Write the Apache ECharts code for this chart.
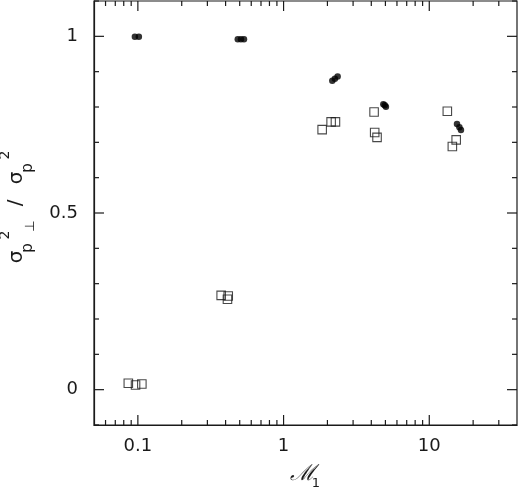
<!DOCTYPE html>
<html>
<head>
<meta charset="utf-8">
<script src="https://cdn.jsdelivr.net/npm/echarts@6/dist/echarts.min.js"></script>
<style>
  html, body { margin: 0; padding: 0; background: #fff; }
  #chart { width: 520px; height: 492px; }
</style>
</head>
<body>
<div id="chart"></div>
<script>
// filled circles: [M1, ratio]
var dotPoints = [
  [0.0954, 0.999], [0.1016, 0.999],
  [0.485, 0.992], [0.51, 0.992], [0.535, 0.992],
  [2.16, 0.874], [2.25, 0.880], [2.35, 0.886],
  [4.84, 0.808], [4.95, 0.805], [5.04, 0.801],
  [15.5, 0.752], [16.1, 0.743], [16.5, 0.735]
];
// open squares: [M1, ratio]
var squarePoints = [
  [0.086, 0.018], [0.0964, 0.013], [0.1065, 0.016],
  [0.373, 0.267], [0.417, 0.265], [0.412, 0.256],
  [1.84, 0.736], [2.12, 0.758], [2.27, 0.758],
  [4.18, 0.786], [4.22, 0.728], [4.38, 0.714],
  [13.3, 0.788], [15.3, 0.707], [14.4, 0.688]
];
// axis ticks
var xMajorTicks = [0.1, 1, 10];
var xMinorTicks = [0.06, 0.07, 0.08, 0.09, 0.2, 0.3, 0.4, 0.5, 0.6, 0.7, 0.8, 0.9,
  2, 3, 4, 5, 6, 7, 8, 9, 20, 30];
var yMajorTicks = [0, 0.5, 1];
var yMinorTicks = [-0.1, 0.1, 0.2, 0.3, 0.4, 0.6, 0.7, 0.8, 0.9, 1.1];

var chart = echarts.init(document.getElementById('chart'));
var ink = '#1a1a1a';
var font = 'DejaVu Sans, sans-serif';

// x tick rows: [x, y, major?]  y tick rows: [x, y, major?]
var xTickData = [], yTickData = [];
xMajorTicks.forEach(function (v) { xTickData.push([v, 0.5, 1]); });
xMinorTicks.forEach(function (v) { xTickData.push([v, 0.5, 0]); });
yMajorTicks.forEach(function (v) { yTickData.push([1, v, 1]); });
yMinorTicks.forEach(function (v) { yTickData.push([1, v, 0]); });

var tickStyle = { stroke: ink, lineWidth: 1.2 };

function renderXTick(params, api) {
  var cs = params.coordSys;
  var p = api.coord([api.value(0), api.value(1)]);
  var len = api.value(2) ? 10 : 5;
  var bottom = cs.y + cs.height, top = cs.y;
  return { type: 'group', children: [
    { type: 'line', shape: { x1: p[0], y1: bottom, x2: p[0], y2: bottom - len }, style: tickStyle },
    { type: 'line', shape: { x1: p[0], y1: top, x2: p[0], y2: top + len }, style: tickStyle }
  ]};
}

function renderYTick(params, api) {
  var cs = params.coordSys;
  var p = api.coord([api.value(0), api.value(1)]);
  var len = api.value(2) ? 10 : 5;
  var left = cs.x, right = cs.x + cs.width;
  return { type: 'group', children: [
    { type: 'line', shape: { x1: left, y1: p[1], x2: left + len, y2: p[1] }, style: tickStyle },
    { type: 'line', shape: { x1: right, y1: p[1], x2: right - len, y2: p[1] }, style: tickStyle }
  ]};
}

function txt(s, x, y, size) {
  return { type: 'text', x: x, y: y, style: {
    text: s, fill: ink, font: size + 'px ' + font, align: 'center', verticalAlign: 'middle'
  }};
}

chart.setOption({
  animation: false,
  backgroundColor: '#fff',
  grid: { left: 94, right: 3, top: 1, bottom: 67, show: true, borderColor: ink, borderWidth: 1.2 },
  xAxis: {
    type: 'log', logBase: 10, min: 0.05, max: 40,
    axisLine: { show: true, onZero: false, lineStyle: { color: ink, width: 1.2 } },
    axisTick: { show: false },
    minorTick: { show: false },
    splitLine: { show: false },
    axisLabel: { color: ink, fontFamily: font, fontSize: 18, margin: 12,
      showMinLabel: false, showMaxLabel: false,
      formatter: function (v) { return String(+v.toPrecision(3)); } }
  },
  yAxis: {
    type: 'value', min: -0.1, max: 1.1, interval: 0.1,
    axisLine: { show: true, onZero: false, lineStyle: { color: ink, width: 1.2 } },
    axisTick: { show: false },
    splitLine: { show: false },
    axisLabel: { color: ink, fontFamily: font, fontSize: 18, margin: 16,
      formatter: function (v) {
        var r = Math.round(v * 2) / 2;
        if (Math.abs(v - r) > 1e-6) return '';
        return String(r);
      } }
  },
  graphic: [
    { type: 'group', x: 302, y: 474, children: [
      { type: 'text', x: 0, y: 0, style: { text: '\u2133', fill: ink, font: 'italic 22px DejaVu Serif, serif',
        align: 'center', verticalAlign: 'middle' } },
      txt('1', 14, 10, 13)
    ]},
    { type: 'group', x: 20, y: 207, rotation: Math.PI / 2, children: [
      txt('\u03c3', -50, -3, 20),
      txt('p', -41, 8, 15),
      txt('2', -28, -15, 14),
      txt('\u22a5', -19, 11, 13),
      txt('/', 4, -4, 20),
      txt('\u03c3', 29, -3, 20),
      txt('p', 39, 8, 15),
      txt('2', 52, -15, 14)
    ]}
  ],
  series: [
    {
      type: 'custom', renderItem: renderXTick, data: xTickData, silent: true, clip: false, z: 1,
      encode: { x: 0, y: 1 }
    },
    {
      type: 'custom', renderItem: renderYTick, data: yTickData, silent: true, clip: false, z: 1,
      encode: { x: 0, y: 1 }
    },
    {
      type: 'scatter', data: squarePoints, symbol: 'rect', symbolSize: 8.5, z: 3,
      itemStyle: { color: 'rgba(0,0,0,0)', borderColor: ink, borderWidth: 1.1 }
    },
    {
      type: 'scatter', data: dotPoints, symbol: 'circle', symbolSize: 6.5, z: 4,
      itemStyle: { color: '#000' }
    }
  ]
});
</script>
</body>
</html>
